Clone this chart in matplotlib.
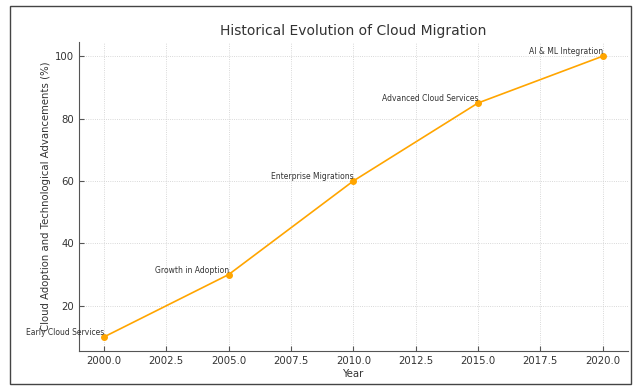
import matplotlib.pyplot as plt
from matplotlib.patches import Rectangle

years = [2000, 2005, 2010, 2015, 2020]
adoption = [10, 30, 60, 85, 100]
milestones = ["Early Cloud Services", "Growth in Adoption", "Enterprise Migrations",
              "Advanced Cloud Services", "AI & ML Integration"]

fig = plt.figure(figsize=(6.36, 3.9), dpi=100)
ax = fig.add_axes([0.1242, 0.1, 0.8628, 0.792])

ax.plot(years, adoption, color='orange', marker='o', markersize=4, linewidth=1.2)
for x, y, lab in zip(years, adoption, milestones):
    ax.text(x, y, lab, ha='right', va='bottom', fontsize=5.5, color='#333333')

ax.set_title("Historical Evolution of Cloud Migration", fontsize=10, color='#333333', pad=5)
ax.set_xlabel("Year", fontsize=7.3, color='#333333', labelpad=2)
ax.set_ylabel("Cloud Adoption and Technological Advancements (%)", fontsize=7.3,
              color='#333333', labelpad=3)

ax.grid(True, linestyle=':', color='#cccccc', linewidth=0.6)
ax.tick_params(direction='in', labelsize=7.3, colors='#555555', labelcolor='#333333')
for s in ['top', 'right']:
    ax.spines[s].set_visible(False)
for s in ['left', 'bottom']:
    ax.spines[s].set_color('#555555')

fig.patches.append(Rectangle((10 / 636, 6 / 390), 621 / 636, 378 / 390,
                             transform=fig.transFigure, fill=False,
                             edgecolor='#444444', linewidth=1))

fig.savefig('out.png', dpi=100)
